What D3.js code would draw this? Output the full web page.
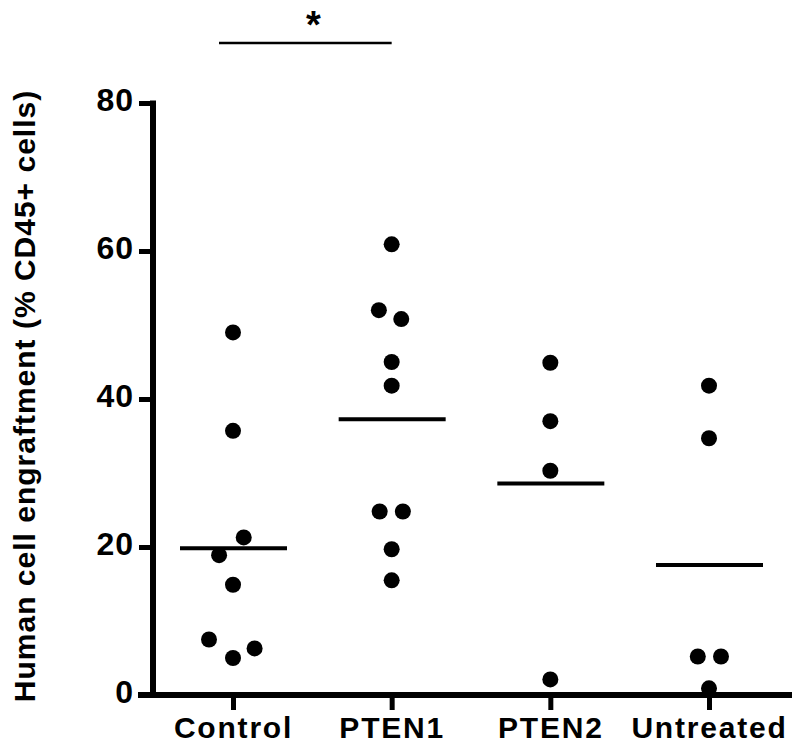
<!DOCTYPE html>
<html>
<head>
<meta charset="utf-8">
<script src="https://cdn.jsdelivr.net/npm/d3@7"></script>
<style>
  html, body { margin: 0; padding: 0; background: #fff; }
  svg { display: block; }
  text { font-family: "Liberation Sans", Arial, Helvetica, sans-serif; }
</style>
</head>
<body>
<svg id="chart" width="800" height="749"></svg>
<script>
// ---------- data ----------
const categories = ["Control", "PTEN1", "PTEN2", "Untreated"];
const controlValues   = [49.0, 35.7, 21.3, 18.9, 14.9, 7.5, 5.0, 6.3];
const pten1Values     = [60.9, 52.0, 50.8, 45.0, 41.8, 24.8, 24.8, 19.7, 15.5];
const pten2Values     = [44.9, 37.0, 30.3, 2.1];
const untreatedValues = [41.8, 34.7, 5.2, 5.2, 0.9];
// horizontal jitter of each point, in dot-diameter units
const controlJitter   = [0, 0, 0.67, -0.87, 0, -1.5, 0, 1.35];
const pten1Jitter     = [0, -0.8, 0.6, 0, 0, -0.75, 0.7, 0, 0];
const pten2Jitter     = [0, 0, 0, 0];
const untreatedJitter = [0, 0, -0.7, 0.75, 0];
const yTicks = [0, 20, 40, 60, 80];
const yLabel = "Human cell engraftment (% CD45+ cells)";
const significance = { from: "Control", to: "PTEN1", label: "*" };

const groups = [
  { name: "Control",   values: controlValues,   jitter: controlJitter },
  { name: "PTEN1",     values: pten1Values,     jitter: pten1Jitter },
  { name: "PTEN2",     values: pten2Values,     jitter: pten2Jitter },
  { name: "Untreated", values: untreatedValues, jitter: untreatedJitter }
];

// ---------- layout ----------
const svg = d3.select("#chart");
const axisX = 153, baseY = 695, topY = 103;
const r = 8;

const x = d3.scalePoint().domain(categories).range([233, 709]);
const y = d3.scaleLinear().domain([0, 80]).range([baseY, topY]);
const jit = d3.scaleLinear().domain([0, 1]).range([0, 2 * r]);

const font = '"Liberation Sans", Arial, Helvetica, sans-serif';

// Y axis
const yAxis = svg.append("g")
  .attr("transform", `translate(${axisX},0)`)
  .call(d3.axisLeft(y).tickValues(yTicks).tickSize(14).tickSizeOuter(0).tickPadding(5));
yAxis.select(".domain").remove();
yAxis.selectAll(".tick line").attr("stroke", "#000").attr("stroke-width", 5);
yAxis.selectAll(".tick text")
  .attr("fill", "#000")
  .style("font-family", font)
  .style("font-size", "32px")
  .style("font-weight", "bold")
  .style("letter-spacing", "1px")
  .attr("dy", "0.30em")
  .attr("y", -2);
yAxis.append("line")
  .attr("x1", 0).attr("x2", 0)
  .attr("y1", y(0)).attr("y2", y(80) - 2.5)
  .attr("stroke", "#000").attr("stroke-width", 6);

// X axis
const xAxis = svg.append("g")
  .attr("transform", `translate(0,${baseY})`)
  .call(d3.axisBottom(x).tickSize(15).tickSizeOuter(0).tickPadding(6));
xAxis.select(".domain").remove();
xAxis.selectAll(".tick line").attr("stroke", "#000").attr("stroke-width", 5);
xAxis.selectAll(".tick text")
  .attr("fill", "#000")
  .style("font-family", font)
  .style("font-size", "30px")
  .style("font-weight", "bold")
  .style("letter-spacing", "1.8px")
  .attr("dy", "0.74em");
xAxis.append("line")
  .attr("x1", axisX - 15).attr("x2", 792)
  .attr("y1", 0).attr("y2", 0)
  .attr("stroke", "#000").attr("stroke-width", 6);

// Y label
svg.append("text")
  .attr("transform", `translate(35,${396}) rotate(-90)`)
  .attr("text-anchor", "middle")
  .style("font-family", font)
  .style("font-size", "30px")
  .style("font-weight", "bold")
  .style("letter-spacing", "1px")
  .attr("fill", "#000")
  .text(yLabel);

// points
const pts = [];
groups.forEach(g => g.values.forEach((v, i) => pts.push({ name: g.name, v, j: g.jitter[i] })));
svg.append("g").selectAll("circle")
  .data(pts).join("circle")
  .attr("cx", d => x(d.name) + jit(d.j))
  .attr("cy", d => y(d.v))
  .attr("r", r)
  .attr("fill", "#000");

// mean lines
svg.append("g").selectAll("line")
  .data(groups).join("line")
  .attr("x1", d => x(d.name) - 53)
  .attr("x2", d => x(d.name) + 54)
  .attr("y1", d => y(d3.mean(d.values)))
  .attr("y2", d => y(d3.mean(d.values)))
  .attr("stroke", "#000").attr("stroke-width", 4);

// significance bar
const sx1 = x(significance.from) - 14, sx2 = x(significance.to);
svg.append("line")
  .attr("x1", sx1).attr("x2", sx2)
  .attr("y1", 43).attr("y2", 43)
  .attr("stroke", "#000").attr("stroke-width", 2.5);
svg.append("text")
  .attr("x", (sx1 + sx2) / 2 + 8)
  .attr("y", 38)
  .attr("text-anchor", "middle")
  .style("font-family", font)
  .style("font-size", "38px")
  .style("font-weight", "bold")
  .attr("fill", "#000")
  .text(significance.label);
</script>
</body>
</html>
